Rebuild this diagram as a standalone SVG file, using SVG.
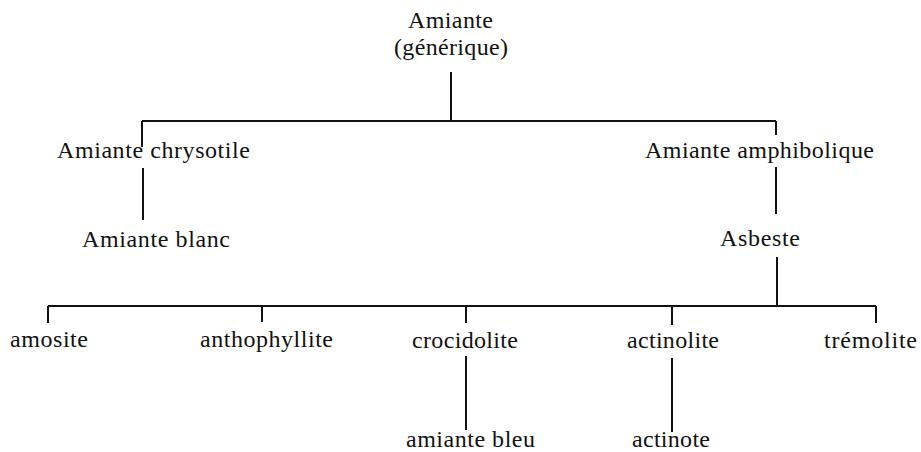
<svg xmlns="http://www.w3.org/2000/svg" width="921" height="452" viewBox="0 0 921 452">
<style>
text{font-family:"Liberation Serif","Times New Roman",serif;font-size:24px;fill:#111}
.c line{stroke:#111;stroke-width:2;fill:none}
</style>
<rect width="921" height="452" fill="#fff"/>
<g class="c" id="connectors">
<line x1="451" y1="72" x2="451" y2="121"/>
<line x1="142" y1="121" x2="776" y2="121"/>
<line x1="142" y1="121" x2="142" y2="147"/>
<line x1="776" y1="121" x2="776" y2="135"/>
<line x1="143" y1="168" x2="143" y2="220"/>
<line x1="776" y1="167" x2="776" y2="214"/>
<line x1="777" y1="257" x2="777" y2="306"/>
<line x1="48" y1="306" x2="876" y2="306"/>
<line x1="48" y1="306" x2="48" y2="323"/>
<line x1="262" y1="306" x2="262" y2="322"/>
<line x1="466" y1="306" x2="466" y2="323"/>
<line x1="672" y1="306" x2="672" y2="325"/>
<line x1="876" y1="306" x2="876" y2="323"/>
<line x1="466" y1="356" x2="466" y2="430"/>
<line x1="672" y1="358" x2="672" y2="432"/>
</g>
<g id="n-amiante"><text x="408" y="28" textLength="85" lengthAdjust="spacing">Amiante</text><text x="394" y="55" textLength="114" lengthAdjust="spacing">(générique)</text></g>
<g id="n-chrysotile"><text x="57" y="158" textLength="193" lengthAdjust="spacing">Amiante chrysotile</text></g>
<g id="n-amphibolique"><text x="645" y="158" textLength="229" lengthAdjust="spacing">Amiante amphibolique</text></g>
<g id="n-blanc"><text x="82" y="247" textLength="148" lengthAdjust="spacing">Amiante blanc</text></g>
<g id="n-asbeste"><text x="720" y="246" textLength="80" lengthAdjust="spacing">Asbeste</text></g>
<g id="n-amosite"><text x="10" y="347" textLength="78" lengthAdjust="spacing">amosite</text></g>
<g id="n-anthophyllite"><text x="200" y="347" textLength="133" lengthAdjust="spacing">anthophyllite</text></g>
<g id="n-crocidolite"><text x="412" y="348" textLength="106" lengthAdjust="spacing">crocidolite</text></g>
<g id="n-actinolite"><text x="627" y="348" textLength="92" lengthAdjust="spacing">actinolite</text></g>
<g id="n-tremolite"><text x="824" y="348" textLength="93" lengthAdjust="spacing">trémolite</text></g>
<g id="n-bleu"><text x="406" y="447" textLength="129" lengthAdjust="spacing">amiante bleu</text></g>
<g id="n-actinote"><text x="632" y="447" textLength="78" lengthAdjust="spacing">actinote</text></g>
</svg>
